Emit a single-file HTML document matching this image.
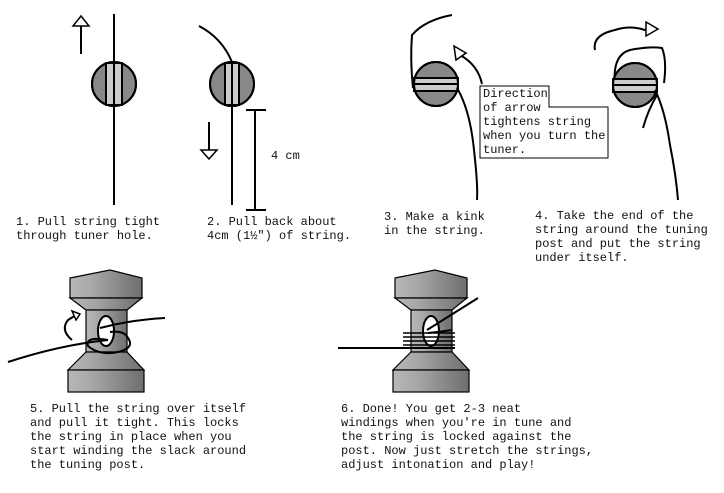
<!DOCTYPE html>
<html><head><style>
body{margin:0;background:#fff;width:724px;height:493px;overflow:hidden}
svg{display:block}
text{font-family:"Liberation Mono","Courier New",monospace;font-size:12px;fill:#111}
</style></head><body>
<svg width="724" height="493" viewBox="0 0 724 493">
<defs>
<linearGradient id="g" x1="0" x2="1"><stop offset="0" stop-color="#b8b8b8"/><stop offset="0.3" stop-color="#a8a8a8"/><stop offset="1" stop-color="#6e6e6e"/></linearGradient>
</defs>
<g stroke="#000" fill="none" stroke-width="2">
<line x1="114" y1="14" x2="114" y2="205"/>
<circle cx="114" cy="84" r="22" fill="#888"/>
<rect x="106" y="63" width="16" height="42" fill="#ccc"/>
<line x1="106" y1="63" x2="106" y2="105"/><line x1="114" y1="63" x2="114" y2="105"/><line x1="122" y1="63" x2="122" y2="105"/>
<circle cx="114" cy="84" r="22"/>
<line x1="81" y1="54" x2="81" y2="26"/>
<polygon points="73,26 89,26 81,16" fill="#fff" stroke-width="1.5"/>
<path d="M199,26 Q222,38 232,62"/>
<line x1="232" y1="105" x2="232" y2="205"/>
<circle cx="232" cy="84" r="22" fill="#888"/>
<rect x="225" y="63" width="14" height="42" fill="#ccc"/>
<line x1="225" y1="63" x2="225" y2="105"/><line x1="232" y1="63" x2="232" y2="105"/><line x1="239" y1="63" x2="239" y2="105"/>
<circle cx="232" cy="84" r="22"/>
<line x1="209" y1="122" x2="209" y2="150"/>
<polygon points="201,150 217,150 209,159" fill="#fff" stroke-width="1.5"/>
<line x1="255" y1="110" x2="255" y2="210"/>
<line x1="246" y1="110" x2="266" y2="110"/><line x1="246" y1="210" x2="266" y2="210"/>
<path d="M452,15 Q425,20 412,35 Q410,60 413,88"/>
<circle cx="436" cy="84" r="22" fill="#888"/>
<rect x="414" y="78" width="44" height="13" fill="#ccc"/>
<line x1="414" y1="78" x2="458" y2="78"/><line x1="414" y1="84" x2="458" y2="84"/><line x1="414" y1="91" x2="458" y2="91"/>
<circle cx="436" cy="84" r="22"/>
<path d="M457,88 Q470,110 474,150 Q478,185 477,200"/>
<path d="M482,84 Q478,65 460,55"/>
<polygon points="454,46 466,53 456,60" fill="#fff" stroke-width="1.5"/>
<path d="M595,50 Q592,35 615,30 Q630,25 645,30 L653,29"/>
<polygon points="646,22 658,29 646,36" fill="#fff" stroke-width="1.5"/>
<path d="M615,85 Q612,55 630,50 Q650,46 662,48 Q667,60 664,83"/>
<circle cx="635" cy="85" r="22" fill="#888"/>
<rect x="613" y="79" width="44" height="13" fill="#ccc"/>
<line x1="613" y1="79" x2="657" y2="79"/><line x1="613" y1="85" x2="657" y2="85"/><line x1="613" y1="92" x2="657" y2="92"/>
<circle cx="635" cy="85" r="22"/>
<path d="M655,90 Q665,110 670,145 Q676,175 678,200"/>
<path d="M657,95 Q648,110 643,128"/>
</g>
<path d="M480,86 H549 V107 H608 V158 H480 Z" fill="#fff" stroke="#000" stroke-width="1"/>
<text x="483" y="97">Direction</text>
<text x="483" y="111">of arrow</text>
<text x="483" y="125">tightens string</text>
<text x="483" y="139">when you turn the</text>
<text x="483" y="153">tuner.</text>
<g id="post" stroke="#000" stroke-width="1.2" fill="url(#g)">
<polygon points="70,278 110,270 142,278 142,298 70,298"/>
<polygon points="70,298 142,298 127,310 86,310"/>
<rect x="86" y="310" width="41" height="42"/>
<polygon points="86,352 127,352 144,370 68,370"/>
<rect x="68" y="370" width="76" height="22"/>
</g>
<use href="#post" x="325"/>
<g stroke="#000" fill="none" stroke-width="2">
<ellipse cx="106" cy="331" rx="8" ry="15" fill="#fff"/>
<path d="M8,362 Q60,345 108,340"/>
<path d="M100,328 Q130,320 165,318"/>
<path d="M108,340 Q85,336 88,346 Q100,356 118,352 Q135,348 128,338 Q124,330 110,332"/>
<path d="M72,340 Q60,330 68,320 L76,315"/>
<polygon points="72,311 80,314 76,320" fill="#fff" stroke-width="1.5"/>
<ellipse cx="431" cy="331" rx="8" ry="15" fill="#fff"/>
<line x1="338" y1="348" x2="455" y2="348"/>
<g stroke-width="1.6"><line x1="403" y1="333" x2="455" y2="333"/><line x1="403" y1="337" x2="455" y2="337"/><line x1="403" y1="341" x2="455" y2="341"/><line x1="403" y1="345" x2="455" y2="345"/></g>
<path d="M427,330 L478,298"/>
<path d="M428,333 Q440,332 452,330"/>
</g>
<text x="16" y="225">1. Pull string tight</text>
<text x="16" y="239">through tuner hole.</text>
<text x="207" y="225">2. Pull back about</text>
<text x="207" y="239">4cm (1½") of string.</text>
<text x="271" y="159">4 cm</text>
<text x="384" y="220">3. Make a kink</text>
<text x="384" y="234">in the string.</text>
<text x="535" y="219">4. Take the end of the</text>
<text x="535" y="233">string around the tuning</text>
<text x="535" y="247">post and put the string</text>
<text x="535" y="261">under itself.</text>
<text x="30" y="412">5. Pull the string over itself</text>
<text x="30" y="426">and pull it tight. This locks</text>
<text x="30" y="440">the string in place when you</text>
<text x="30" y="454">start winding the slack around</text>
<text x="30" y="468">the tuning post.</text>
<text x="341" y="412">6. Done! You get 2-3 neat</text>
<text x="341" y="426">windings when you're in tune and</text>
<text x="341" y="440">the string is locked against the</text>
<text x="341" y="454">post. Now just stretch the strings,</text>
<text x="341" y="468">adjust intonation and play!</text>
</svg>
</body></html>
